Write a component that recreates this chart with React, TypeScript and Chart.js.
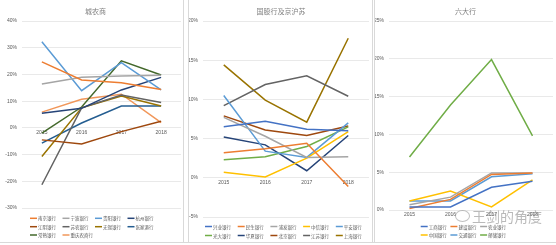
import React, { useEffect, useRef } from "react";
import { Chart, registerables } from "chart.js";
Chart.register(...registerables);

const years = ["2015", "2016", "2017", "2018"];

// ---- Panel 1: 城农商 ----
const p1Title = "城农商";
const p1Ticks = { min: -30, max: 40, step: 10 };
const p1Names = ["南京银行", "宁波银行", "贵阳银行", "杭州银行", "江阴银行", "苏农银行", "无锡银行", "张家港行", "常熟银行", "重庆农商行"];
const p1Colors = ["#ED7D31", "#A5A5A5", "#5B9BD5", "#264478", "#9E480E", "#636363", "#997300", "#255E91", "#43682B", "#F1975A"];
const nanjing = [24.7, 17.9, 16.9, 14.4];
const ningbo = [16.4, 18.9, 19.4, 19.7];
const guiyang = [32.2, 13.9, 24.4, 14.2];
const hangzhou = [5.5, 7.3, 14.2, 18.9];
const jiangyin = [-4.5, -6.0, -1.4, 2.5];
const sunong = [-21.3, 7.5, 12.3, 9.5];
const wuxi = [-10.7, 7.5, 11.9, 8.2];
const zhangjiagang = [-5.7, 1.8, 8.2, 8.2];
const changshu = [-2.0, 7.8, 25.1, 19.8];
const chongqing = [5.9, 10.7, 12.6, 2.0];
const p1Values = [nanjing, ningbo, guiyang, hangzhou, jiangyin, sunong, wuxi, zhangjiagang, changshu, chongqing];

// ---- Panel 2: 国股行及京沪苏 ----
const p2Title = "国股行及京沪苏";
const p2Ticks = { min: -5, max: 20, step: 5 };
const p2Names = ["兴业银行", "民生银行", "浦发银行", "中信银行", "平安银行", "光大银行", "华夏银行", "北京银行", "江苏银行", "上海银行"];
const p2Colors = ["#4472C4", "#ED7D31", "#A5A5A5", "#FFC000", "#5B9BD5", "#70AD47", "#264478", "#9E480E", "#636363", "#997300"];
const xingye = [6.5, 7.2, 6.2, 6.0];
const minsheng = [3.2, 3.7, 4.4, -1.1];
const pufa = [7.7, 5.3, 2.6, 2.7];
const zhongxin = [0.7, 0.1, 2.5, 5.9];
const pingan = [10.5, 3.4, 2.6, 7.0];
const guangda = [2.3, 2.7, 4.0, 6.5];
const huaxia = [5.2, 4.2, 0.9, 5.4];
const beijing = [7.9, 6.1, 5.4, 6.6];
const jiangsu = [9.2, 11.9, 13.0, 10.4];
const shanghai = [14.4, 9.9, 7.1, 17.8];
const p2Values = [xingye, minsheng, pufa, zhongxin, pingan, guangda, huaxia, beijing, jiangsu, shanghai];

// ---- Panel 3: 六大行 ----
const p3Title = "六大行";
const p3Ticks = { min: 0, max: 25, step: 5 };
const p3Names = ["工商银行", "建设银行", "农业银行", "中国银行", "交通银行", "邮储银行"];
const p3Colors = ["#4472C4", "#ED7D31", "#A5A5A5", "#FFC000", "#5B9BD5", "#70AD47"];
const gongshang = [0.4, 0.4, 3.0, 3.8];
const jianshe = [0.2, 1.4, 4.7, 4.9];
const nongye = [0.7, 1.7, 4.9, 4.9];
const zhongguo = [1.2, 2.5, 0.4, 4.0];
const jiaotong = [1.2, 1.2, 4.4, 4.8];
const youchu = [7.0, 13.9, 19.9, 9.8];
const p3Values = [gongshang, jianshe, nongye, zhongguo, jiaotong, youchu];

const CJK = '"Noto Sans CJK SC", "Noto Sans", sans-serif';

type PanelCfg = {
  left: number;
  width: number;
  title: string;
  titleX: number;
  names: string[];
  colors: string[];
  values: number[][];
  ticks: { min: number; max: number; step: number };
  padTop: number;
  padBottom: number;
  padRight: number;
  yWidth: number;
  legendX: number;
  colW: number;
  cols: number;
  rowY: number[];
};

const H = 245;

function Panel({ cfg }: { cfg: PanelCfg }) {
  const ref = useRef<HTMLCanvasElement | null>(null);
  useEffect(() => {
    if (!ref.current) return;
    const decor = {
      id: "decor",
      afterDraw(chart: any) {
        const ctx = chart.ctx as CanvasRenderingContext2D;
        ctx.save();
        ctx.fillStyle = "#7F7F7F";
        ctx.font = `7px ${CJK}`;
        ctx.textAlign = "center";
        ctx.textBaseline = "middle";
        ctx.fillText(cfg.title, cfg.titleX, 11);
        ctx.font = `4.5px ${CJK}`;
        ctx.textAlign = "left";
        chart.data.datasets.forEach((ds: any, i: number) => {
          const col = i % cfg.cols;
          const row = Math.floor(i / cfg.cols);
          const x = cfg.legendX + col * cfg.colW;
          const y = cfg.rowY[row];
          ctx.strokeStyle = ds.borderColor;
          ctx.lineWidth = 1.5;
          ctx.beginPath();
          ctx.moveTo(x, y);
          ctx.lineTo(x + 7, y);
          ctx.stroke();
          ctx.fillStyle = "#595959";
          ctx.fillText(ds.label, x + 8, y + 0.3);
        });
        ctx.restore();
      },
    };
    const chart = new Chart(ref.current, {
      type: "line",
      data: {
        labels: years,
        datasets: cfg.names.map((n, i) => ({
          label: n,
          data: cfg.values[i],
          borderColor: cfg.colors[i],
          backgroundColor: cfg.colors[i],
          borderWidth: 1.5,
          pointRadius: 0,
          tension: 0,
          fill: false,
        })),
      },
      options: {
        animation: false,
        responsive: false,
        layout: { padding: { top: cfg.padTop, bottom: cfg.padBottom, right: cfg.padRight, left: 0 } },
        plugins: { legend: { display: false }, tooltip: { enabled: false }, title: { display: false } },
        scales: {
          x: {
            type: "category",
            offset: true,
            position: { y: 0 } as any,
            grid: { display: false, drawTicks: false, tickLength: 0 },
            border: { display: false },
            ticks: { font: { size: 5, family: "Arial, Liberation Sans" }, color: "#595959", padding: 2, maxRotation: 0 },
          },
          y: {
            min: cfg.ticks.min,
            max: cfg.ticks.max,
            afterFit: (s: any) => {
              s.width = cfg.yWidth;
            },
            grid: { color: "#E3E3E3", lineWidth: 0.8, drawTicks: false },
            border: { display: false },
            ticks: {
              stepSize: cfg.ticks.step,
              padding: 5,
              color: "#595959",
              font: { size: 5, family: "Arial, Liberation Sans" },
              callback: (v: any) => `${v}%`,
            },
          },
        },
      },
      plugins: [decor],
    });
    return () => chart.destroy();
  }, [cfg]);
  return (
    <canvas
      ref={ref}
      width={cfg.width}
      height={H}
      style={{ position: "absolute", left: cfg.left, top: 0, width: cfg.width, height: H }}
    />
  );
}

const panels: PanelCfg[] = [
  {
    left: 0, width: 184, title: p1Title, titleX: 95.5, names: p1Names, colors: p1Colors, values: p1Values,
    ticks: p1Ticks, padTop: 21, padBottom: H - 208, padRight: 3, yWidth: 22,
    legendX: 30, colW: 32.5, cols: 4, rowY: [218.3, 226.7, 235],
  },
  {
    left: 188, width: 184, title: p2Title, titleX: 93, names: p2Names, colors: p2Colors, values: p2Values,
    ticks: p2Ticks, padTop: 21, padBottom: H - 217, padRight: 3, yWidth: 15,
    legendX: 17, colW: 32.7, cols: 5, rowY: [226.5, 235.5],
  },
  {
    left: 374, width: 182, title: p3Title, titleX: 91.5, names: p3Names, colors: p3Colors, values: p3Values,
    ticks: p3Ticks, padTop: 21, padBottom: H - 210, padRight: 3, yWidth: 15,
    legendX: 46.7, colW: 29.7, cols: 3, rowY: [226.5, 235],
  },
];

export default function App() {
  useEffect(() => {
    document.body.style.margin = "0";
  }, []);
  const line = "#D9D9D9";
  return (
    <div style={{ position: "fixed", left: 0, top: 0, width: 556, height: H, background: "#fff", overflow: "hidden" }}>
      {panels.map((p, i) => (
        <Panel key={i} cfg={p} />
      ))}
      <div style={{ position: "absolute", left: 183, top: 0, width: 1, height: 242, background: line }} />
      <div style={{ position: "absolute", left: 188, top: 0, width: 1, height: 242, background: line }} />
      <div style={{ position: "absolute", left: 372, top: 0, width: 1, height: 242, background: line }} />
      <div style={{ position: "absolute", left: 374, top: 0, width: 1, height: 242, background: line }} />
      <div style={{ position: "absolute", left: 0, top: 242, width: 556, height: 1, background: line }} />
      <div
        style={{
          position: "absolute", left: 455, top: 210, width: 13, height: 10, borderRadius: "50%",
          border: "1.5px solid rgba(140,140,140,0.55)",
        }}
      />
      <div
        style={{
          position: "absolute", left: 472, top: 208, fontSize: 14, lineHeight: "16px",
          fontFamily: CJK, color: "rgba(130,130,130,0.55)", whiteSpace: "nowrap",
        }}
      >
        王剑的角度
      </div>
    </div>
  );
}
